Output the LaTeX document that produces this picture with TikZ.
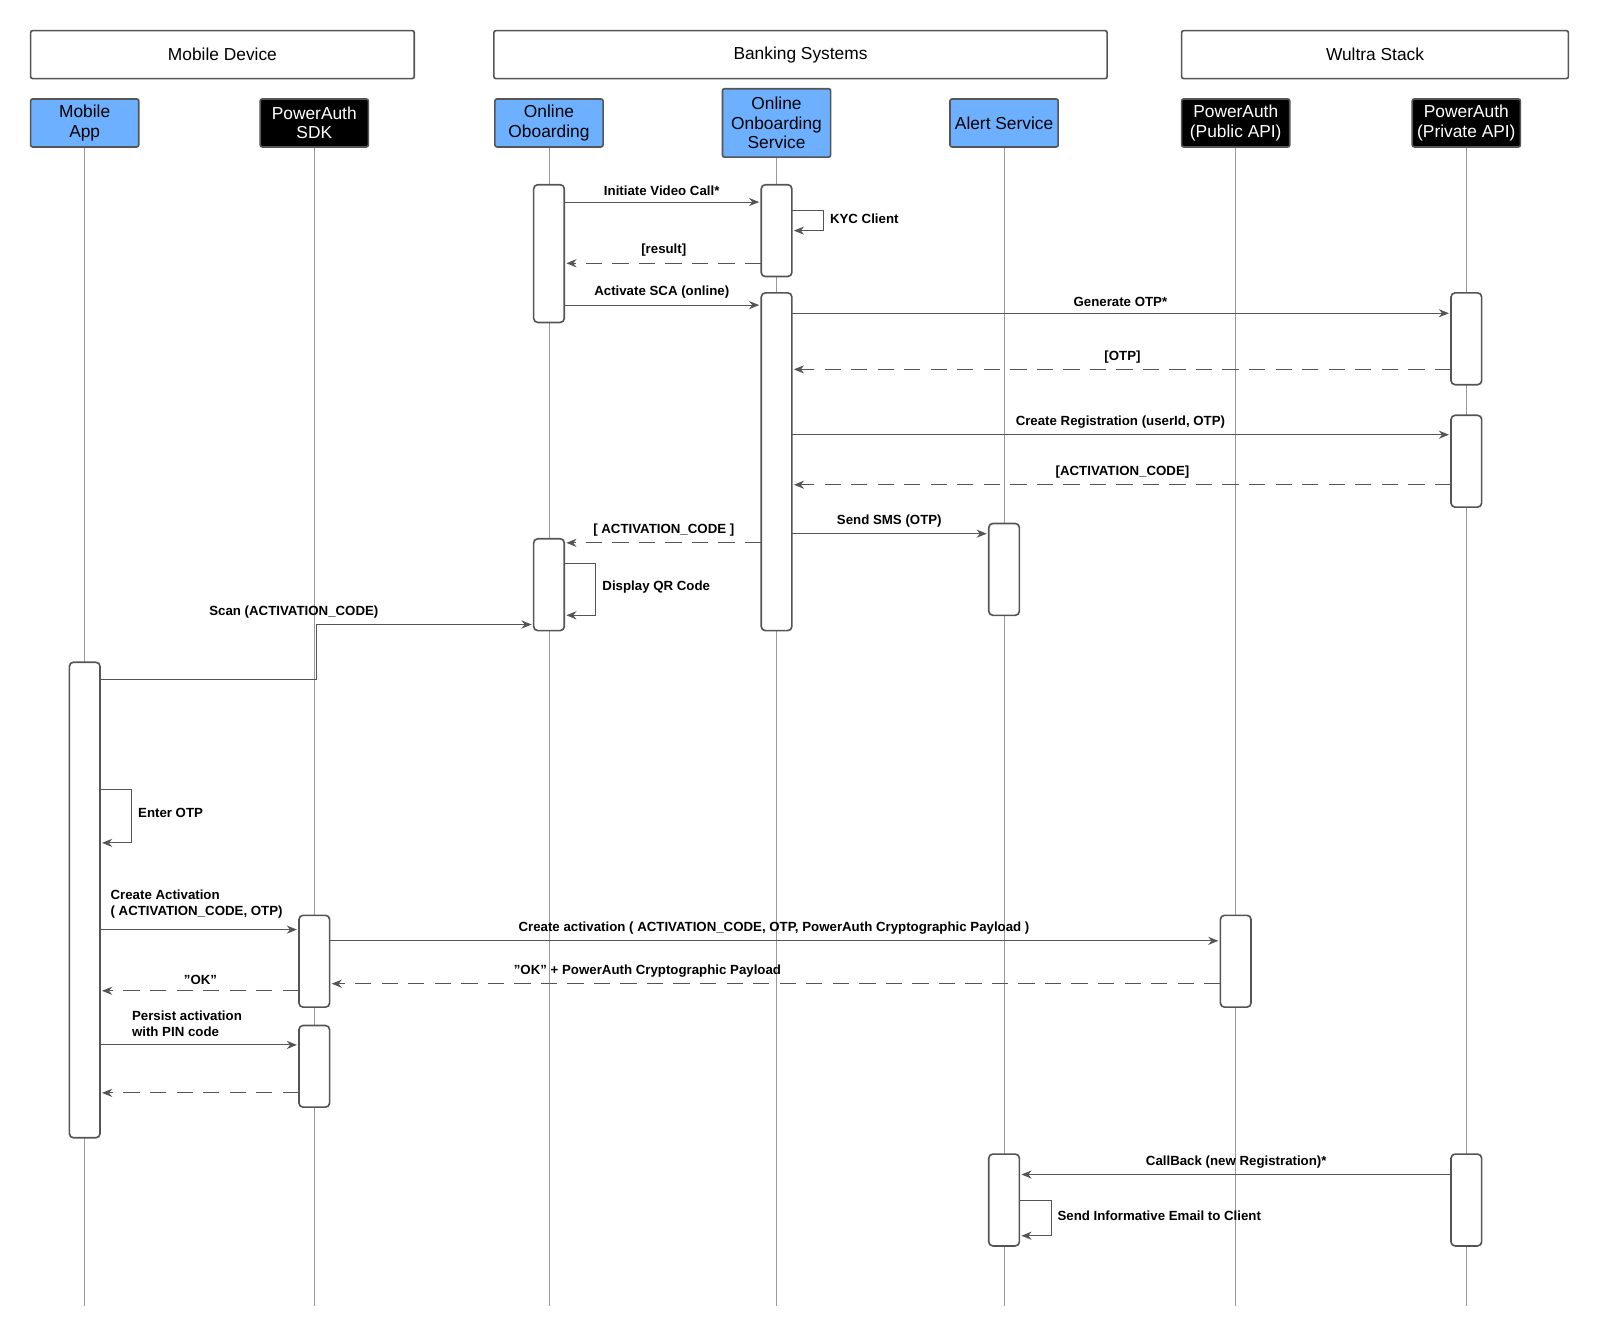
\documentclass[tikz,border=0pt]{standalone}
\usepackage{fontspec}
\setmainfont{Liberation Sans}
\usetikzlibrary{arrows.meta}
\definecolor{pblue}{HTML}{6CB0FF}
\definecolor{edge}{HTML}{555555}
\newcommand{\dq}{\symbol{34}}
\begin{document}
\begin{tikzpicture}[x=0.5pt,y=-0.5pt,
  grp/.style={draw=edge,line width=0.8pt,rounded corners=1pt,fill=white},
  part/.style={draw=edge,line width=0.8pt,rounded corners=1pt,align=center,font=\fontsize{8.5}{9.5}\selectfont,inner sep=0pt},
  act/.style={draw=edge,line width=0.8pt,rounded corners=2pt,fill=white},
  life/.style={draw=gray!80,line width=0.4pt},
  msg/.style={draw=edge,line width=0.45pt,-{Stealth[length=5pt,width=4pt]}},
  ret/.style={msg,dash pattern=on 8pt off 5pt},
  lbl/.style={font=\bfseries\fontsize{6.5}{7.8}\selectfont,inner sep=1pt}]
\useasboundingbox (0,0) rectangle (1568,1312);
% groups
\draw[grp] (30,30) rectangle node[font=\fontsize{8.5}{9.5}\selectfont] (g1){Mobile Device} (406,77);
\draw[grp] (484,30) rectangle node[font=\fontsize{8.5}{9.5}\selectfont] (g2){Banking Systems} (1085,77);
\draw[grp] (1158,30) rectangle node[font=\fontsize{8.5}{9.5}\selectfont] (g3){Wultra Stack} (1537,77);
% lifelines
\foreach \x in {83,308,538,761,984,1211,1437} \draw[life] (\x,140) -- (\x,1280);
% participants
\draw[part,fill=pblue] (30,97) rectangle node[align=center,font=\fontsize{8.5}{9.5}\selectfont] (p1){Mobile\\App} (136,144);
\draw[part,fill=black] (255,97) rectangle node[align=center,text=white,font=\fontsize{8.5}{9.5}\selectfont] (p2){PowerAuth\\SDK} (361,144);
\draw[part,fill=pblue] (485,97) rectangle node[align=center,font=\fontsize{8.5}{9.5}\selectfont] (p3){Online\\Oboarding} (591,144);
\draw[part,fill=pblue] (708,87) rectangle node[align=center,font=\fontsize{8.5}{9.5}\selectfont] (p4){Online\\Onboarding\\Service} (814,154);
\draw[part,fill=pblue] (931,97) rectangle node[align=center,font=\fontsize{8.5}{9.5}\selectfont] (p5){Alert Service} (1037,144);
\draw[part,fill=black] (1158,97) rectangle node[align=center,text=white,font=\fontsize{8.5}{9.5}\selectfont] (p6){PowerAuth\\(Public API)} (1264,144);
\draw[part,fill=black] (1384,97) rectangle node[align=center,text=white,font=\fontsize{8.5}{9.5}\selectfont] (p7){PowerAuth\\(Private API)} (1490,144);
% activations
\foreach \a/\b/\c in {523/181/316,746/181/271,746/287/618,1422/287/377,1422/407/497,969/513/603,523/528/618,68/649/1115,293/897/987,1196/897/987,293/1005/1085,969/1131/1221,1422/1131/1221}
  \draw[act] (\a,\b) rectangle (\a+30,\c);
% messages
\draw[msg] (553,198) -- node[lbl,above=2pt]{Initiate Video Call*} (744,198);
\draw[msg] (776,206) -- (807,206) -- (807,226) -- (778,226);
\node[lbl,anchor=west] at (811,214) {KYC Client};
\draw[ret] (746,258) -- node[lbl,above=2pt]{[result]} (555,258);
\draw[msg] (553,299) -- node[lbl,above=2pt]{Activate SCA (online)} (744,299);
\draw[msg] (776,307) -- node[lbl,above=2pt]{Generate OTP*} (1420,307);
\draw[ret] (1422,362) -- node[lbl,above=2pt]{[OTP]} (778,362);
\draw[msg] (776,426) -- node[lbl,above=2pt]{Create Registration (userId, OTP)} (1420,426);
\draw[ret] (1422,475) -- node[lbl,above=2pt]{[ACTIVATION\_CODE]} (778,475);
\draw[msg] (776,523) -- node[lbl,above=2pt]{Send SMS (OTP)} (967,523);
\draw[ret] (746,532) -- node[lbl,above=2pt]{[ ACTIVATION\_CODE ]} (555,532);
\draw[msg] (553,552) -- (584,552) -- (584,603) -- (555,603);
\node[lbl,anchor=west] at (588,575) {Display QR Code};
\draw[msg] (98,666) -- (310,666) -- (310,612) -- (521,612);
\node[lbl] at (288,600) {Scan (ACTIVATION\_CODE)};
\draw[msg] (98,774) -- (129,774) -- (129,826) -- (100,826);
\node[lbl,anchor=west] at (133,797) {Enter OTP};
\draw[msg] (98,911) -- (291,911);
\node[lbl,anchor=south west,align=left] at (106,902) {Create Activation\\( ACTIVATION\_CODE, OTP)};
\draw[msg] (323,922) -- node[lbl,above=2pt]{Create activation ( ACTIVATION\_CODE, OTP, PowerAuth Cryptographic Payload )} (1194,922);
\draw[ret] (1196,964) -- node[lbl,above=2pt,xshift=-63]{\dq OK\dq{} + PowerAuth Cryptographic Payload} (325,964);
\draw[ret] (293,971) -- node[lbl,above=2pt]{\dq OK\dq} (100,971);
\draw[msg] (98,1024) -- (291,1024);
\node[lbl,anchor=south west,align=left] at (127,1018) {Persist activation\\with PIN code};
\draw[ret] (293,1071) -- (100,1071);
\draw[msg] (1422,1151) -- node[lbl,above=2pt]{CallBack (new Registration)*} (1001,1151);
\draw[msg] (999,1176) -- (1030,1176) -- (1030,1211) -- (1001,1211);
\node[lbl,anchor=west] at (1034,1191) {Send Informative Email to Client};
\end{tikzpicture}
\end{document}
